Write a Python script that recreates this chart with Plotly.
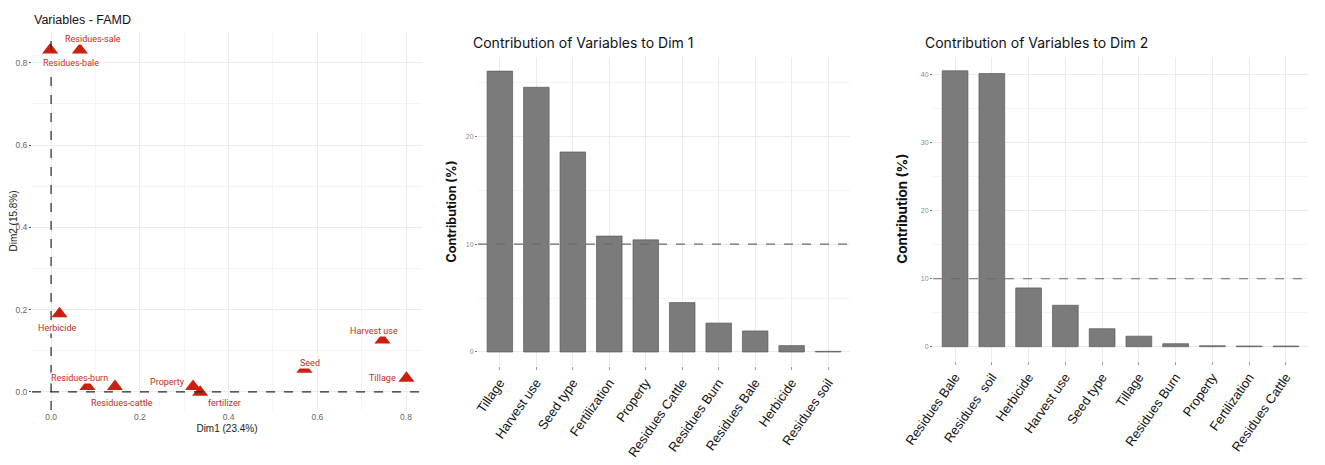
import plotly.graph_objects as go

# factor map (Dim1 / Dim2 coordinates of each variable)
famd_vars = ["Residues-bale", "Residues-sale", "Herbicide", "Residues-burn", "Residues-cattle",
             "Property", "fertilizer", "Seed", "Harvest use", "Tillage"]
dim1_coord = [-0.002, 0.065, 0.019, 0.082, 0.144, 0.320, 0.336, 0.571, 0.747, 0.801]
dim2_coord = [0.831, 0.831, 0.190, 0.013, 0.013, 0.013, -0.001, 0.055, 0.126, 0.033]

# contributions to Dim 1
dim1_vars = ["Tillage", "Harvest use", "Seed type", "Fertilization", "Property",
             "Residues Cattle", "Residues Burn", "Residues Bale", "Herbicide", "Residues soil"]
dim1_contrib = [26.05, 24.55, 18.55, 10.75, 10.4, 4.58, 2.68, 1.95, 0.59, 0.06]

# contributions to Dim 2
dim2_vars = ["Residues Bale", "Residues  soil", "Herbicide", "Harvest use", "Seed type",
             "Tillage", "Residues Burn", "Property", "Fertilization", "Residues Cattle"]
dim2_contrib = [40.6, 40.2, 8.65, 6.1, 2.65, 1.55, 0.44, 0.15, 0.1, 0.1]

# label nudges (px) so text sits like the repelled labels
label_shift = {
    "Residues-bale": (21, -13), "Residues-sale": (13, 11), "Herbicide": (-3, -14),
    "Residues-burn": (-8, 9), "Residues-cattle": (7, -16), "Property": (-26, 5),
    "fertilizer": (24, -11), "Seed": (6, 6), "Harvest use": (-9, 9), "Tillage": (-24, 0),
}

RED = "#cc1f10"
BAR = "#7b7b7b"
GRID = "#ebebeb"
MINOR = "#f4f4f4"

# the page body has a default 8px margin, so the figure is drawn 8px in
OFF = 8
W, H = 1325 - OFF, 465 - OFF


def px_x(a, b):
    return [(a - OFF) / W, (b - OFF) / W]


def px_y(top, bottom):
    return [1 - (bottom - OFF) / H, 1 - (top - OFF) / H]


def at(px, py):
    return (px - OFF) / W, 1 - (py - OFF) / H


fig = go.Figure()

fig.add_trace(go.Scatter(
    x=dim1_coord, y=dim2_coord, mode="markers",
    marker=dict(symbol="triangle-up", size=14, color=RED),
    xaxis="x", yaxis="y", hoverinfo="text", text=famd_vars,
))
fig.add_trace(go.Bar(
    x=dim1_vars, y=dim1_contrib, width=0.7,
    marker=dict(color=BAR, line=dict(color="#5a5a5a", width=0.7)),
    xaxis="x2", yaxis="y2",
))
fig.add_trace(go.Bar(
    x=dim2_vars, y=dim2_contrib, width=0.7,
    marker=dict(color=BAR, line=dict(color="#5a5a5a", width=0.7)),
    xaxis="x3", yaxis="y3",
))

for name, xv, yv in zip(famd_vars, dim1_coord, dim2_coord):
    dx, dy = label_shift[name]
    fig.add_annotation(x=xv, y=yv, xref="x", yref="y", text=name, showarrow=False,
                       xshift=dx, yshift=dy, bgcolor="white", borderpad=0,
                       font=dict(family="Roboto", size=9, color="#c62a1c"))

# dashed reference lines
fig.add_shape(type="line", xref="x", yref="y domain", x0=0, x1=0, y0=0, y1=1,
              line=dict(color="#2a2a2a", width=1.2, dash="dash"))
fig.add_shape(type="line", xref="x domain", yref="y", x0=0, x1=1, y0=0, y1=0,
              line=dict(color="#2a2a2a", width=1.2, dash="dash"))
for xr, yr in (("x2 domain", "y2"), ("x3 domain", "y3")):
    fig.add_shape(type="line", xref=xr, yref=yr, x0=0, x1=1, y0=10, y1=10,
                  line=dict(color="#6a6a6a", width=1.1, dash="dash"))

small_tick = dict(family="Liberation Sans", size=7, color="#8a8a8a")
cat_tick = dict(family="Liberation Sans", size=13, color="#111111")

fig.update_layout(
    width=W, height=H,
    margin=dict(l=0, r=0, t=0, b=0),
    paper_bgcolor="white", plot_bgcolor="white",
    showlegend=False, bargap=0.3,
    xaxis=dict(domain=px_x(32, 422), range=[-0.043, 0.836], anchor="y", automargin=False,
               tickvals=[0, 0.2, 0.4, 0.6, 0.8], ticktext=["0.0", "0.2", "0.4", "0.6", "0.8"],
               showgrid=True, gridcolor=GRID, zeroline=False, showline=False,
               minor=dict(dtick=0.1, tick0=0, showgrid=True, gridcolor=MINOR),
               tickfont=dict(family="Liberation Sans", size=8.5, color="#666666"),
               title=dict(text="Dim1 (23.4%)", standoff=4,
                          font=dict(family="Liberation Sans", size=10, color="#222222"))),
    yaxis=dict(domain=px_y(32, 410), range=[-0.044, 0.875], anchor="x", automargin=False,
               tickvals=[0, 0.2, 0.4, 0.6, 0.8], ticktext=["0.0", "0.2", "0.4", "0.6", "0.8"],
               showgrid=True, gridcolor=GRID, zeroline=False, showline=False,
               ticks="outside", ticklen=2, tickcolor="#555555",
               minor=dict(dtick=0.1, tick0=0, showgrid=True, gridcolor=MINOR),
               tickfont=dict(family="Liberation Sans", size=8.5, color="#666666"),
               title=dict(text="Dim2 (15.8%)", standoff=9,
                          font=dict(family="Liberation Sans", size=10, color="#222222"))),
    xaxis2=dict(domain=px_x(478, 850), range=[-0.6, 9.6], anchor="y2", automargin=False,
                showgrid=True, gridcolor=GRID, zeroline=False, showline=False,
                ticks="outside", ticklen=3, tickcolor="#999999",
                tickangle=-55, tickfont=cat_tick),
    yaxis2=dict(domain=px_y(57, 366), range=[-1.3, 27.36], anchor="x2", automargin=False,
                tickvals=[0, 10, 20], showgrid=True, gridcolor=GRID,
                zeroline=False, showline=False,
                ticks="outside", ticklen=2, tickcolor="#777777",
                minor=dict(dtick=5, tick0=0, showgrid=True, gridcolor=MINOR),
                tickfont=small_tick,
                title=dict(text="<b>Contribution (%)</b>", standoff=6,
                           font=dict(family="Inter", size=12.5, color="#111111"))),
    xaxis3=dict(domain=px_x(933, 1308), range=[-0.6, 9.6], anchor="y3", automargin=False,
                showgrid=True, gridcolor=GRID, zeroline=False, showline=False,
                ticks="outside", ticklen=3, tickcolor="#999999",
                tickangle=-55, tickfont=cat_tick),
    yaxis3=dict(domain=px_y(57, 360.5), range=[-2.03, 42.63], anchor="x3", automargin=False,
                tickvals=[0, 10, 20, 30, 40], showgrid=True, gridcolor=GRID,
                zeroline=False, showline=False,
                ticks="outside", ticklen=2, tickcolor="#777777",
                minor=dict(dtick=5, tick0=0, showgrid=True, gridcolor=MINOR),
                tickfont=small_tick,
                title=dict(text="<b>Contribution (%)</b>", standoff=10,
                           font=dict(family="Inter", size=13.5, color="#111111"))),
)

titles = [
    ((32, 20), "Variables - FAMD", dict(family="Liberation Sans", size=12.5, color="#111111")),
    ((471, 43), "Contribution of Variables to Dim 1", dict(family="Inter", size=14, color="#111111")),
    ((923, 43), "Contribution of Variables to Dim 2", dict(family="Inter", size=14, color="#111111")),
]
for (px, py), txt, fnt in titles:
    ax, ay = at(px, py)
    fig.add_annotation(x=ax, y=ay, xref="paper", yref="paper", xanchor="left",
                       yanchor="middle", showarrow=False, text=txt, font=fnt)

fig.write_html("out.html")
